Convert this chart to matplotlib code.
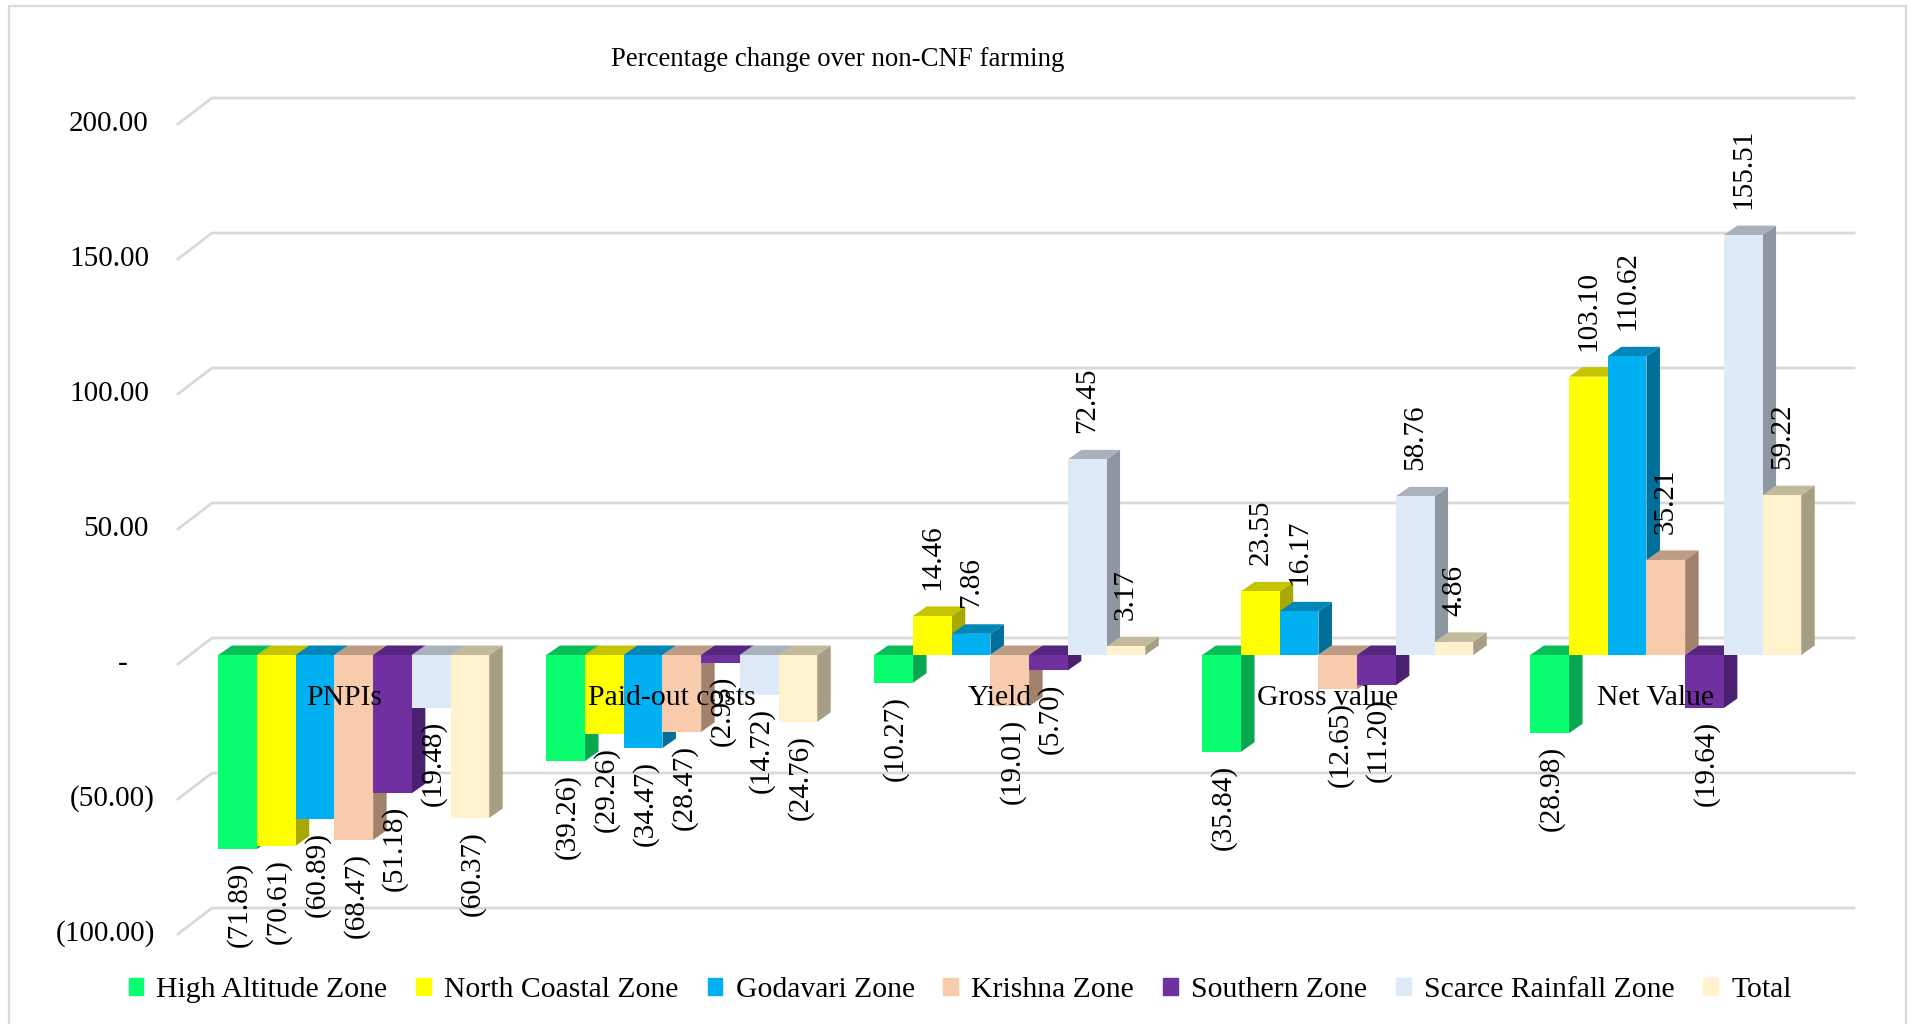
import matplotlib
matplotlib.use('Agg')
import matplotlib.pyplot as plt
from matplotlib.patches import Patch, Polygon, Rectangle

categories = ['PNPIs', 'Paid-out costs', 'Yield', 'Gross value', 'Net Value']
zones = ['High Altitude Zone', 'North Coastal Zone', 'Godavari Zone', 'Krishna Zone',
         'Southern Zone', 'Scarce Rainfall Zone', 'Total']

high_altitude = [-71.89, -39.26, -10.27, -35.84, -28.98]
north_coastal = [-70.61, -29.26, 14.46, 23.55, 103.10]
godavari = [-60.89, -34.47, 7.86, 16.17, 110.62]
krishna = [-68.47, -28.47, -19.01, -12.65, 35.21]
southern = [-51.18, -2.93, -5.70, -11.20, -19.64]
scarce_rainfall = [-19.48, -14.72, 72.45, 58.76, 155.51]
total = [-60.37, -24.76, 3.17, 4.86, 59.22]
series = [high_altitude, north_coastal, godavari, krishna, southern, scarce_rainfall, total]

y_ticks = [200, 150, 100, 50, 0, -50, -100]
y_tick_labels = ['200.00', '150.00', '100.00', '50.00', '-', '(50.00)', '(100.00)']

front_colors = ['#0AFF70', '#FFFF00', '#00B0F0', '#F8CBAD', '#7030A0', '#DEEAF8', '#FFF2CC']
top_colors = ['#08BE58', '#C4C400', '#0086B8', '#BE9B84', '#552580', '#A9B2BC', '#C3BA9C']
side_colors = ['#09A850', '#A8A800', '#006F9A', '#A3826D', '#4A2070', '#8E979F', '#A69E85']

# pixel layout of the picture, the axes fill the whole figure
W, H = 1912, 1024
PX_CAT = 328.0    # one category
PX_UNIT = 2.7     # one y unit
X0_PX = 353.8     # centre of first group
Y0_PX = 655.0     # bar base

def dx(px):
    return px / PX_CAT

def dy(px):
    return px / PX_UNIT

def xpos(px):
    return (px - X0_PX) / PX_CAT

plt.rcParams['font.family'] = ['Liberation Serif', 'DejaVu Serif']

fig = plt.figure(figsize=(W / 100, H / 100), dpi=100)
ax = fig.add_axes([0, 0, 1, 1])
ax.set_xlim(xpos(0), xpos(W))
ax.set_ylim((Y0_PX - H) / PX_UNIT, Y0_PX / PX_UNIT)
ax.axis('off')

# outer frame
ax.add_patch(Rectangle((xpos(9), (Y0_PX - 1030) / PX_UNIT), dx(1897), dy(1024),
                       fill=False, ec='#D9D9D9', lw=1.6, zorder=0))

# gridlines with the bent front part
for v, lab in zip(y_ticks, y_tick_labels):
    ax.plot([xpos(178), xpos(212), xpos(1854)],
            [v - dy(9), v + dy(17), v + dy(17)], color='#D9D9D9', lw=2, zorder=1)
    right = 128 if lab == '-' else (155 if lab.startswith('(') else 149)
    ax.text(xpos(right), v - dy(9), lab, ha='right', va='center', fontsize=21, zorder=200)

bar_w = dx(38.7)
depth_x = dx(13.5)
depth_y = dy(9.5)

z = 2
for c in range(len(categories)):
    for s, vals in enumerate(series):
        v = vals[c]
        left = c + (s - 3.5) * bar_w
        right = left + bar_w
        ax.add_patch(Polygon([(right, 0), (right + depth_x, depth_y),
                              (right + depth_x, v + depth_y), (right, v)],
                             fc=side_colors[s], ec='none', zorder=z))
        top = max(v, 0)
        ax.add_patch(Polygon([(left, top), (left + depth_x, top + depth_y),
                              (right + depth_x, top + depth_y), (right, top)],
                             fc=top_colors[s], ec='none', zorder=z + 1))
        ax.bar(left, v, width=bar_w, align='edge', color=front_colors[s], zorder=z + 2)
        z += 3

        if v >= 0:
            txt = f'{v:.2f}'
            ax.text(left + bar_w / 2, v + dy(26), txt, rotation=90, ha='center', va='bottom',
                    fontsize=21, zorder=300)
        else:
            txt = f'({-v:.2f})'
            ax.text(left + bar_w / 2 + dx(2), v - dy(13), txt, rotation=90, ha='center', va='top',
                    fontsize=21, zorder=300)

for c, name in enumerate(categories):
    ax.text(c - dx(10), dy(Y0_PX - 698), name, ha='center', va='center', fontsize=21.3, zorder=310)

ax.text(xpos(838), dy(Y0_PX - 59), 'Percentage change over non-CNF farming', ha='center', va='center',
        fontsize=19.3, zorder=310)

handles = [Patch(color=col, label=name) for col, name in zip(front_colors, zones)]
ax.legend(handles=handles, ncol=7, loc='center', bbox_to_anchor=(960 / W, 1 - 990 / H), frameon=False,
          fontsize=21.4, handlelength=0.5, handleheight=0.5, handletextpad=0.44, columnspacing=0.97,
          borderpad=0)

fig.savefig('out.png', dpi=100)
